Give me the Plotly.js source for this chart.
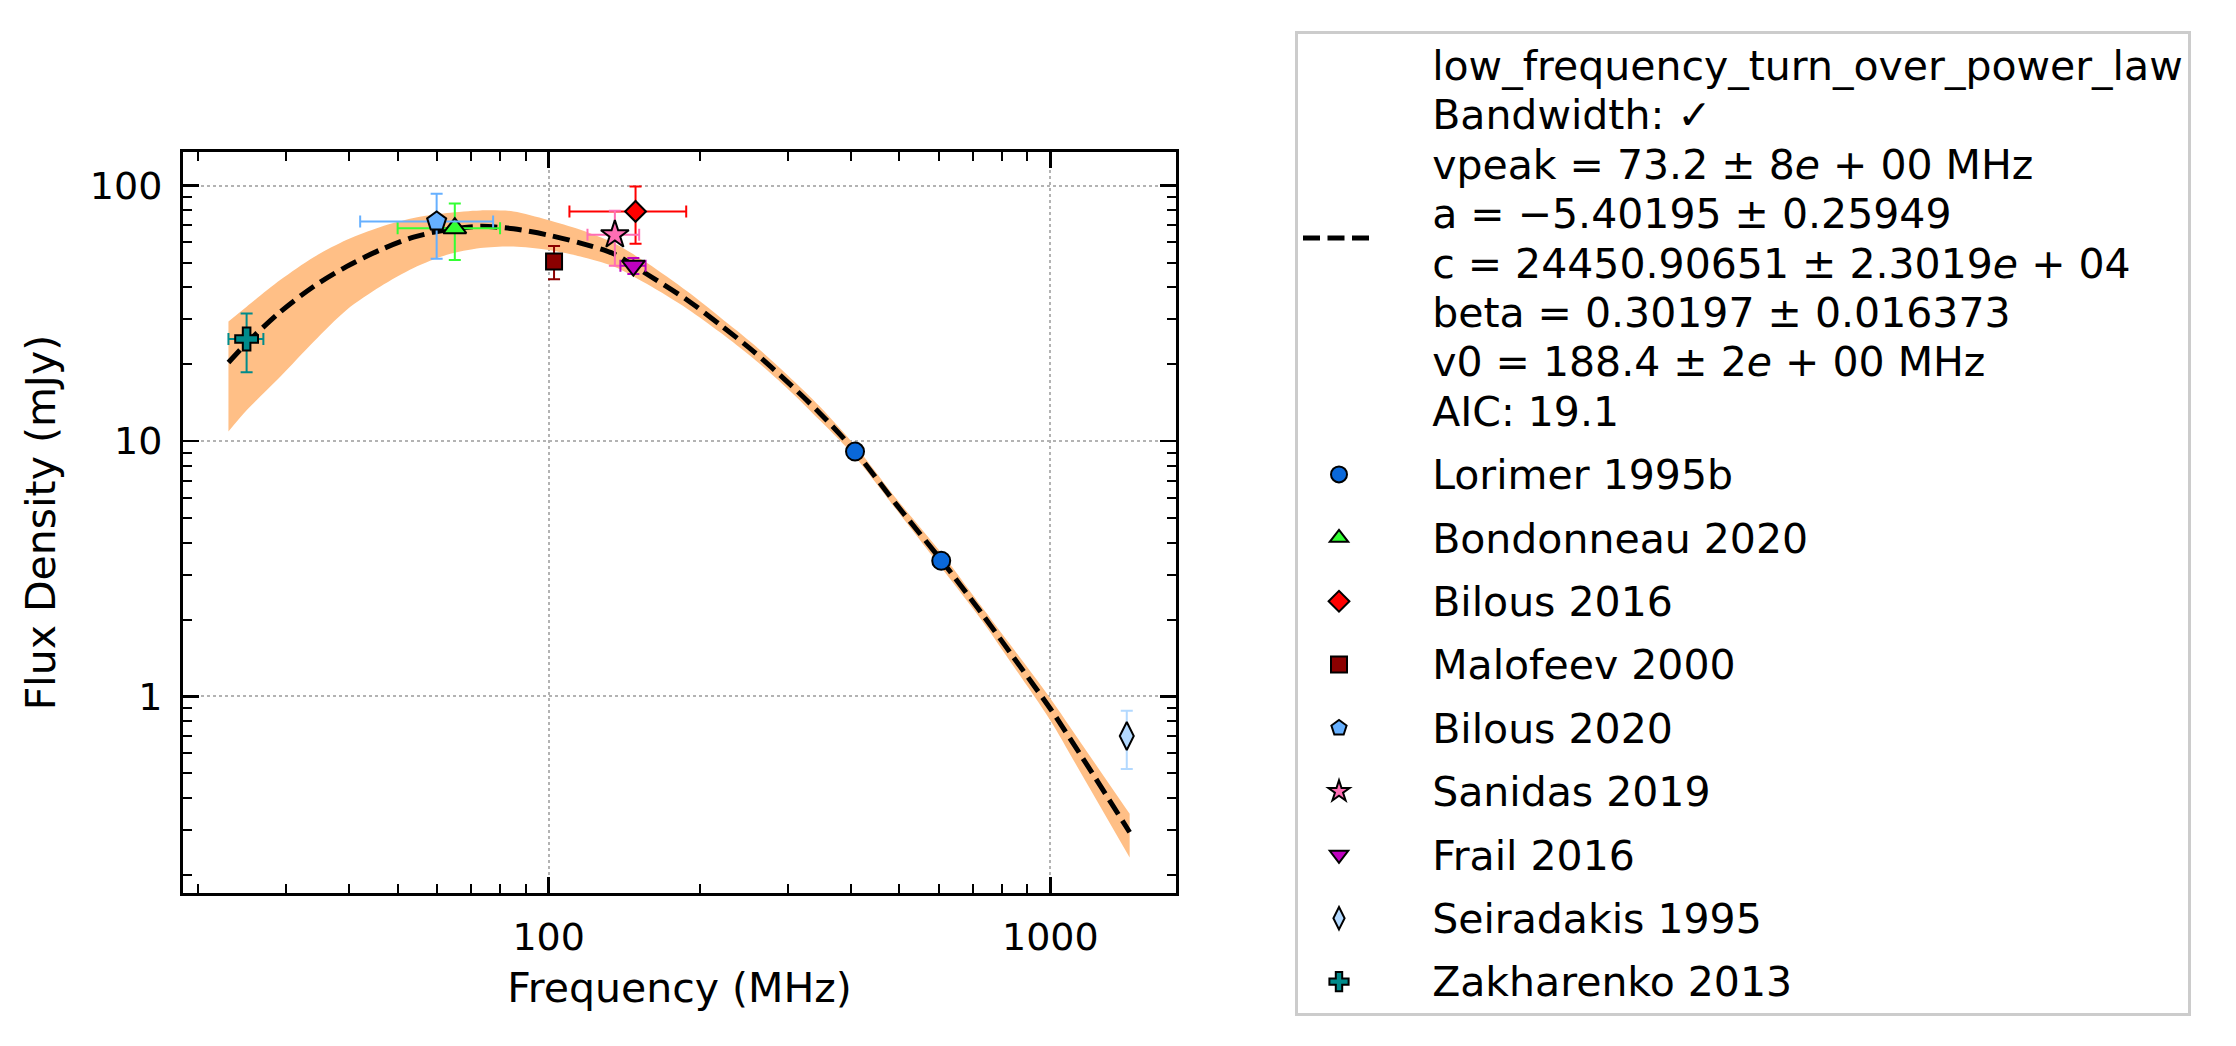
<!DOCTYPE html>
<html>
<head>
<meta charset="utf-8">
<script src="https://cdn.plot.ly/plotly-3.0.1.min.js"></script>
<style>
  html, body { margin: 0; padding: 0; background: #ffffff; }
  #chart { width: 2236px; height: 1046px; }
</style>
</head>
<body>
<div id="chart"></div>
<script>
// ---------------- data ----------------
// fitted model curve (low_frequency_turn_over_power_law)
const fitFreq  = [23, 25, 29.2, 34, 39.6, 46.2, 53.8, 62.7, 73.1, 85.1, 99.3, 115.7, 134.8, 157.1, 188.8, 219.9, 256.3, 298.7, 347.9, 408.6, 494.8, 608, 725.3, 845.2, 1000, 1148, 1439];
const fitFlux  = [20.3, 24.2, 32.1, 40.3, 48.3, 56.1, 62.9, 67.2, 69.3, 67.8, 64.2, 59.6, 54.1, 45.0, 35.7, 28.5, 22.4, 17.1, 12.8, 9.1, 5.6, 3.39, 2.15, 1.42, 0.895, 0.592, 0.294];
const fitUpper = [29.4, 33.6, 42.8, 52.5, 61.4, 68.9, 74.7, 78.1, 80.0, 79.3, 73.6, 67.2, 59.6, 49.8, 38.6, 30.5, 23.9, 18.2, 13.6, 9.56, 5.9, 3.62, 2.28, 1.53, 0.982, 0.662, 0.347];
const fitLower = [10.9, 13.2, 17.9, 24.5, 32.7, 40.3, 47.6, 53.6, 57.0, 57.8, 56.1, 52.8, 48.3, 41.2, 33.0, 26.6, 21.0, 16.1, 12.0, 8.65, 5.35, 3.17, 2.02, 1.31, 0.805, 0.505, 0.234];

const fitLabel = [
  "low_frequency_turn_over_power_law",
  "Bandwidth: \u2713",
  "vpeak = 73.2 \u00b1 8<i>e</i> + 00 MHz",
  "a = \u22125.40195 \u00b1 0.25949",
  "c = 24450.90651 \u00b1 2.3019<i>e</i> + 04",
  "beta = 0.30197 \u00b1 0.016373",
  "v0 = 188.4 \u00b1 2<i>e</i> + 00 MHz",
  "AIC: 19.1"
];

// measurements: freq (MHz), freq err, flux (mJy), flux err
const lorimerFreq = [408, 606],   lorimerFreqErr = [0, 0],  lorimerFlux = [9.1, 3.4],  lorimerFluxErr = [0.3, 0.12];
const bondFreq    = [65],         bondFreqErr    = [15],    bondFlux    = [68.2],      bondFluxErr    = [17];
const bil16Freq   = [149],        bil16FreqErr   = [39],    bil16Flux   = [79.3],      bil16FluxErr   = [20];
const maloFreq    = [102.5],      maloFreqErr    = [0],     maloFlux    = [50.5],      maloFluxErr    = [7.5];
const bil20Freq   = [59.8],       bil20FreqErr   = [17.7],  bil20Flux   = [72.4],      bil20FluxErr   = [20.6];
const saniFreq    = [135.5],      saniFreqErr    = [16],    saniFlux    = [64.2],      saniFluxErr    = [15.6];
const frailFreq   = [147.5],      frailFreqErr   = [8.5],   frailFlux   = [48.6],      frailFluxErr   = [3.5];
const seirFreq    = [1420],       seirFreqErr    = [0],     seirFlux    = [0.70],      seirFluxErr    = [0.18];
const zakhFreq    = [25],         zakhFreqErr    = [2],     zakhFlux    = [25.1],      zakhFluxErr    = [6.5];

const xTickVals = [100, 1000];
const yTickVals = [1, 10, 100];

// ---------------- styling ----------------
const FONT = "DejaVu Sans, Liberation Sans, sans-serif";
const PAD = "\u00a0\u00a0\u00a0\u00a0";   // gap between legend symbol and text
// legend base font 38 px gives matplotlib-like line spacing; glyphs drawn at 41 px
const big = s => '<span style="font-size:41px">' + PAD + s + '</span>';

function dataTrace(name, fx, fxe, fy, fye, color, symbol, size) {
  return {
    type: "scatter", mode: "markers", name: big(name), legendgroup: name,
    x: fx, y: fy,
    error_x: { type: "data", array: fxe, visible: true, color: color, thickness: 2, width: 6 },
    error_y: { type: "data", array: fye, visible: true, color: color, thickness: 2, width: 6 },
    marker: { color: color, symbol: symbol, size: size, line: { color: "#000000", width: 2 } },
    hoverinfo: "x+y+name"
  };
}

const traces = [
  { type: "scatter", mode: "lines", x: fitFreq, y: fitLower, line: { width: 0, color: "rgba(0,0,0,0)", shape: "spline", smoothing: 0.8 },
    showlegend: false, hoverinfo: "skip", legendgroup: "band" },
  { type: "scatter", mode: "lines", x: fitFreq, y: fitUpper, fill: "tonexty", fillcolor: "#ffbf86",
    line: { width: 0, color: "rgba(0,0,0,0)", shape: "spline", smoothing: 0.8 }, showlegend: false, hoverinfo: "skip", legendgroup: "band" },
  { type: "scatter", mode: "lines", x: fitFreq, y: fitFlux, name: fitLabel.map(big).join("<br>"), legendgroup: "fit",
    line: { color: "#000000", width: 5, dash: "17px,7.5px", shape: "spline", smoothing: 0.8 } },
  dataTrace("Lorimer 1995b", lorimerFreq, lorimerFreqErr, lorimerFlux, lorimerFluxErr, "#0a68d9", "circle", 18),
  dataTrace("Bondonneau 2020", bondFreq, bondFreqErr, bondFlux, bondFluxErr, "#33ff33", "triangle-up", 20),
  dataTrace("Bilous 2016", bil16Freq, bil16FreqErr, bil16Flux, bil16FluxErr, "#ff0000", "diamond", 16),
  dataTrace("Malofeev 2000", maloFreq, maloFreqErr, maloFlux, maloFluxErr, "#8b0000", "square", 16),
  dataTrace("Bilous 2020", bil20Freq, bil20FreqErr, bil20Flux, bil20FluxErr, "#66b0ff", "pentagon", 20),
  dataTrace("Sanidas 2019", saniFreq, saniFreqErr, saniFlux, saniFluxErr, "#ff6eb4", "star", 21),
  dataTrace("Frail 2016", frailFreq, frailFreqErr, frailFlux, frailFluxErr, "#bf00bf", "triangle-down", 20),
  dataTrace("Seiradakis 1995", seirFreq, seirFreqErr, seirFlux, seirFluxErr, "#b3d9ff", "diamond-tall", 20),
  dataTrace("Zakharenko 2013", zakhFreq, zakhFreqErr, zakhFlux, zakhFluxErr, "#008b8b", "cross", 19)
];

const axisCommon = {
  type: "log",
  showline: true, linecolor: "#000000", linewidth: 3, mirror: "allticks",
  ticks: "inside", ticklen: 16, tickwidth: 2.5, tickcolor: "#000000",
  showgrid: true, gridcolor: "#b3b3b3", gridwidth: 2, griddash: "dot",
  zeroline: false,
  tickfont: { family: FONT, size: 38, color: "#000000" },
  tickmode: "array",
  exponentformat: "none",
  minor: { ticks: "inside", ticklen: 9, tickwidth: 2, tickcolor: "#000000", showgrid: false, dtick: "D1" }
};

const layout = {
  width: 2236, height: 1046,
  paper_bgcolor: "#ffffff", plot_bgcolor: "#ffffff",
  margin: { l: 183, r: 1060, t: 152, b: 153 },
  font: { family: FONT, color: "#000000" },
  showlegend: true,
  xaxis: Object.assign({}, axisCommon, {
    range: [Math.log10(18.67), Math.log10(1780)],
    tickvals: xTickVals, ticktext: xTickVals.map(String),
    ticklabelstandoff: 8,
    title: { text: "Frequency (MHz)", font: { family: FONT, size: 41, color: "#000000" }, standoff: 16 }
  }),
  yaxis: Object.assign({}, axisCommon, {
    range: [Math.log10(0.170), Math.log10(135.5)],
    tickvals: yTickVals, ticktext: yTickVals.map(String),
    ticklabelstandoff: 10,
    title: { text: "Flux Density (mJy)", font: { family: FONT, size: 41, color: "#000000" }, standoff: 22 }
  }),
  legend: {
    xref: "container", yref: "container",
    x: 1295 / 2236, y: 1 - 31 / 1046, xanchor: "left", yanchor: "top",
    maxheight: 1040,
    bgcolor: "#ffffff", bordercolor: "#cccccc", borderwidth: 3,
    font: { family: FONT, size: 38, color: "#000000" },
    tracegroupgap: 11, itemwidth: 72, valign: "middle", traceorder: "grouped"
  }
};

Plotly.newPlot("chart", traces, layout, { staticPlot: true, displayModeBar: false });
</script>
</body>
</html>
